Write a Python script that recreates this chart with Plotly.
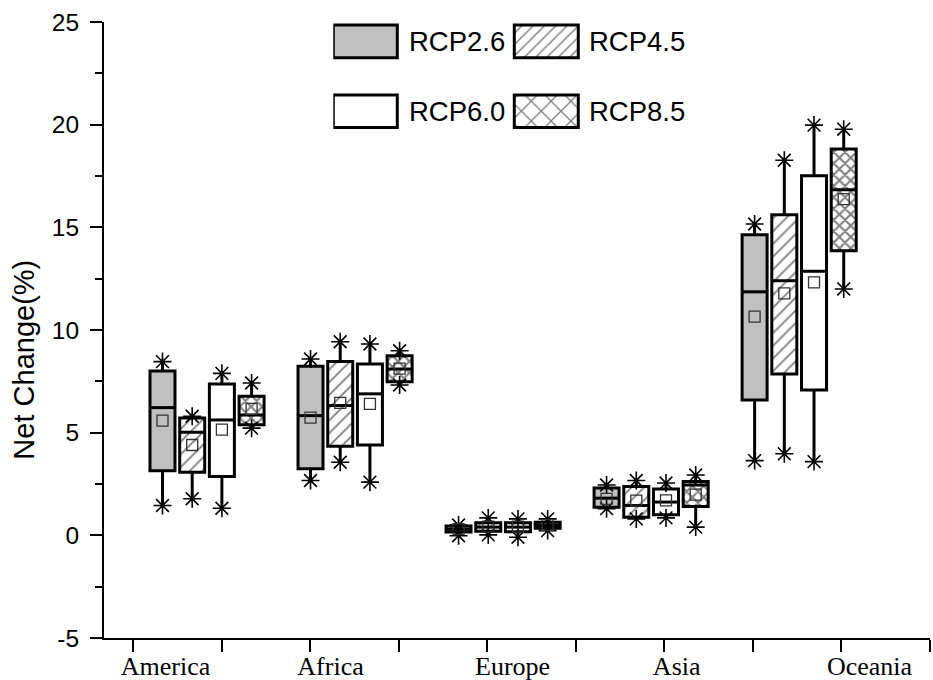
import plotly.graph_objects as go

# ---------------- data ----------------
regions = ["America", "Africa", "Europe", "Asia", "Oceania"]
scenarios = ["RCP2.6", "RCP4.5", "RCP6.0", "RCP8.5"]

# each list: one row per scenario, one value per region
whisker_min = [
    [1.45, 2.67, -0.02, 1.30, 3.64],
    [1.78, 3.56, 0.02, 0.80, 3.97],
    [1.32, 2.59, -0.09, 0.85, 3.59],
    [5.22, 7.32, 0.23, 0.40, 12.00],
]
box_q1 = [
    [3.15, 3.24, 0.16, 1.37, 6.59],
    [3.07, 4.34, 0.20, 0.88, 7.86],
    [2.86, 4.40, 0.18, 1.00, 7.08],
    [5.39, 7.48, 0.35, 1.40, 13.86],
]
box_median = [
    [6.22, 5.83, 0.30, 1.81, 11.86],
    [5.02, 6.32, 0.40, 1.45, 12.40],
    [5.62, 6.89, 0.40, 1.62, 12.86],
    [5.86, 8.10, 0.48, 2.45, 16.83],
]
box_q3 = [
    [8.00, 8.23, 0.45, 2.31, 14.64],
    [5.72, 8.46, 0.61, 2.38, 15.61],
    [7.37, 8.35, 0.61, 2.26, 17.51],
    [6.77, 8.75, 0.64, 2.62, 18.81],
]
whisker_max = [
    [8.46, 8.59, 0.50, 2.45, 15.16],
    [5.80, 9.43, 0.85, 2.67, 18.27],
    [7.89, 9.32, 0.80, 2.55, 19.98],
    [7.42, 8.99, 0.80, 2.94, 19.78],
]
box_mean = [
    [5.59, 5.73, 0.30, 1.78, 10.65],
    [4.40, 6.45, 0.42, 1.69, 11.78],
    [5.15, 6.40, 0.42, 1.70, 12.32],
    [6.16, 8.12, 0.50, 1.98, 16.37],
]
y_ticks = [-5, 0, 5, 10, 15, 20, 25]
y_tick_text = ["-5", "0", "5", "10", "15", "20", "25"]
x_tick_marks = [1, 2, 3, 4, 5, 6, 7, 8, 9, 10]
region_label_x = [1.365, 3.229, 5.285, 7.139, 9.317]

# ---------------- styling / layout constants ----------------
first_box = 1.331
group_step = 1.672
box_step = 0.3355
box_w = 0.2824

fills = ["#c0c0c0", "white", "white", "white"]
patterns = ["", "/", "", "x"]
pat_size_plot = [8, 9, 8, 8]
pat_sol_plot = [0.1, 0.2, 0.1, 0.45]
pat_size_leg = [8, 8, 8, 14]
pat_sol_leg = [0.1, 0.18, 0.1, 0.18]

SANS = "Liberation Sans, Arial, sans-serif"
SERIF = "Liberation Serif, Times New Roman, serif"

fig = go.Figure()

for j, sc in enumerate(scenarios):
    xs = [first_box + i * group_step + j * box_step for i in range(len(regions))]
    heights = [box_q3[j][i] - box_q1[j][i] for i in range(len(regions))]
    fig.add_trace(go.Bar(
        x=xs, y=heights, base=box_q1[j], width=box_w,
        marker=dict(color=fills[j],
                    line=dict(color="black", width=3),
                    pattern=dict(shape=patterns[j], fgcolor="black", bgcolor=fills[j],
                                 size=pat_size_plot[j], solidity=pat_sol_plot[j],
                                 fillmode="overlay")),
        showlegend=False, hoverinfo="skip"))

    wx, wy = [], []
    mx, my = [], []
    for i in range(len(regions)):
        wx += [xs[i], xs[i], None, xs[i], xs[i], None]
        wy += [box_q3[j][i], whisker_max[j][i], None, box_q1[j][i], whisker_min[j][i], None]
        mx += [xs[i] - box_w / 2, xs[i] + box_w / 2, None]
        my += [box_median[j][i], box_median[j][i], None]
    fig.add_trace(go.Scatter(x=wx, y=wy, mode="lines", line=dict(color="black", width=3),
                             showlegend=False, hoverinfo="skip"))
    fig.add_trace(go.Scatter(x=mx, y=my, mode="lines", line=dict(color="black", width=3),
                             showlegend=False, hoverinfo="skip"))
    fig.add_trace(go.Scatter(x=xs + xs, y=whisker_max[j] + whisker_min[j], mode="markers",
                             marker=dict(symbol="asterisk-open", size=15, color="black",
                                         line=dict(color="black", width=1.6)),
                             showlegend=False, hoverinfo="skip"))
    fig.add_trace(go.Scatter(x=xs, y=box_mean[j], mode="markers",
                             marker=dict(symbol="square-open", size=11, color="#333333",
                                         line=dict(color="#333333", width=1.3)),
                             showlegend=False, hoverinfo="skip"))

# ---------------- legend drawn on an auxiliary axis pair ----------------
leg_col_x = [32, 213]
leg_row_base = [77.3, 7.3]
leg_sw_w = 64
leg_sw_h = 32.7
leg_text_x = [74, 253.4]
for j, sc in enumerate(scenarios):
    col, row = j % 2, j // 2
    fig.add_trace(go.Bar(
        x=[leg_col_x[col]], y=[leg_sw_h], base=[leg_row_base[row]], width=leg_sw_w,
        xaxis="x2", yaxis="y2",
        marker=dict(color=fills[j], line=dict(color="black", width=3),
                    pattern=dict(shape=patterns[j], fgcolor="black", bgcolor=fills[j],
                                 size=pat_size_leg[j], solidity=pat_sol_leg[j],
                                 fillmode="overlay")),
        showlegend=False, hoverinfo="skip"))
    fig.add_annotation(x=leg_text_x[col], y=leg_row_base[row] + leg_sw_h / 2,
                       xref="x2", yref="y2", text=sc, showarrow=False,
                       xanchor="left", yanchor="middle",
                       font=dict(family=SANS, size=27.5, color="black"))

fig.add_annotation(x=-0.097, y=0.4517, xref="paper", yref="paper",
                   text="Net Change(%)", textangle=-90, showarrow=False,
                   xanchor="center", yanchor="middle",
                   font=dict(family=SANS, size=29, color="black"))

fig.update_layout(
    width=933, height=680,
    margin=dict(l=104, r=3, t=22, b=42),
    paper_bgcolor="white", plot_bgcolor="white",
    barmode="overlay", showlegend=False,
    xaxis=dict(range=[0.6704, 10.0], showgrid=False, zeroline=False, automargin=False,
               showline=True, linecolor="black", linewidth=2,
               tickmode="array", tickvals=region_label_x, ticktext=regions,
               ticks="", ticklabelstandoff=4,
               tickfont=dict(family=SERIF, size=26, color="black"),
               minor=dict(tickmode="array", tickvals=x_tick_marks, ticks="outside",
                          ticklen=12, tickwidth=2, tickcolor="black", showgrid=False)),
    yaxis=dict(range=[-5, 25], showgrid=False, zeroline=False, automargin=False,
               showline=True, linecolor="black", linewidth=2,
               tickmode="array", tickvals=y_ticks, ticktext=y_tick_text, ticks="outside",
               ticklen=12, tickwidth=2, tickcolor="black", ticklabelstandoff=6,
               tickfont=dict(family=SANS, size=24.5, color="black"),
               minor=dict(dtick=2.5, tick0=0, ticks="outside", ticklen=7,
                          tickwidth=2, tickcolor="black", showgrid=False)),
    xaxis2=dict(domain=[0.2776, 0.7134], range=[0, 360], visible=False, fixedrange=True,
                anchor="y2"),
    yaxis2=dict(domain=[0.8167, 1.0], range=[0, 113], visible=False, fixedrange=True,
                anchor="x2"),
)

fig.write_html("out.html", config={"displayModeBar": False},
               post_script="document.body.style.margin='0px';")
